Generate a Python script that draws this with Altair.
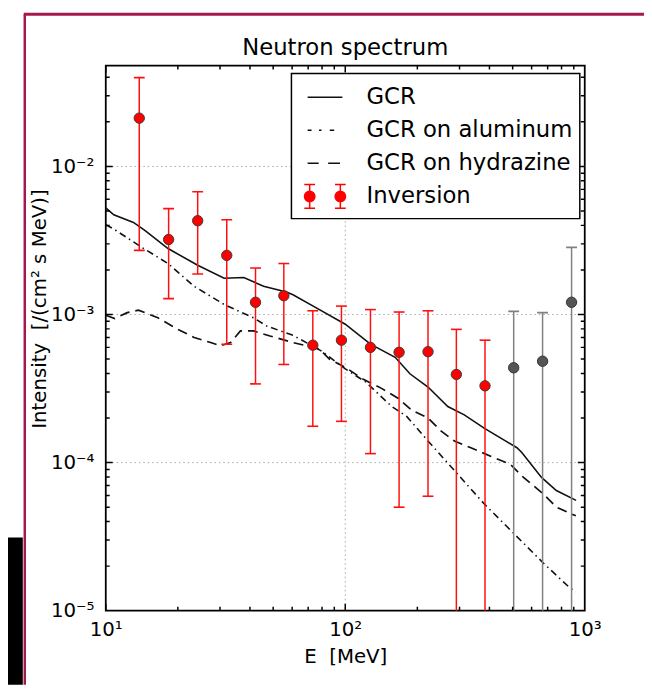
import math
import altair as alt
import pandas as pd

# ---------------- data ----------------
series_names = ["GCR", "GCR on aluminum", "GCR on hydrazine", "Inversion"]

gcr_energy = [10, 10.8, 13.05, 14.6, 18.2, 24.2, 31.2, 37.7, 45.6, 56.8, 60.5, 78.0, 100, 127.4,
              161.6, 186.2, 221.6, 268, 314, 380, 521, 546, 660, 761, 920]
gcr_value = [5.25e-3, 4.71e-3, 4.19e-3, 3.69e-3, 2.79e-3, 2.15e-3, 1.76e-3, 1.78e-3, 1.55e-3, 1.42e-3,
             1.36e-3, 1.08e-3, 8.6e-4, 6.31e-4, 5.14e-4, 3.98e-4, 3.24e-4, 2.39e-4, 2.10e-4, 1.71e-4,
             1.26e-4, 1.17e-4, 7.94e-5, 6.48e-5, 5.56e-5]

al_energy = [10, 10.8, 14.1, 18.2, 23.4, 31.2, 41.4, 47.0, 60.5, 79.3, 100, 121.5, 156.5, 180.5,
             221.6, 294.6, 380, 505, 671, 865, 918]
al_value = [4.04e-3, 3.78e-3, 2.85e-3, 2.21e-3, 1.55e-3, 1.17e-3, 9.5e-4, 8.36e-4, 7.24e-4, 5.69e-4,
            4.30e-4, 3.51e-4, 2.39e-4, 2.05e-4, 1.40e-4, 8.36e-5, 5.27e-5, 3.33e-5, 2.10e-5, 1.43e-5,
            1.34e-5]

hy_energy = [10, 10.9, 12.3, 13.7, 16.5, 20.0, 23.4, 27.4, 30.1, 33.2, 36.5, 41.4, 48.5, 60.5, 78.0,
             85.8, 100, 117.8, 142.3, 166.7, 189.3, 221.6, 251.7, 285.6, 334.6, 417.6, 489, 555, 671,
             761, 918]
hy_value = [9.9e-4, 9.4e-4, 1.03e-3, 1.07e-3, 9.5e-4, 7.94e-4, 7.0e-4, 6.47e-4, 6.15e-4, 6.47e-4,
            7.75e-4, 7.75e-4, 7.16e-4, 6.47e-4, 5.85e-4, 5.01e-4, 4.40e-4, 3.69e-4, 3.16e-4, 2.71e-4,
            2.26e-4, 2.0e-4, 1.63e-4, 1.40e-4, 1.26e-4, 1.08e-4, 9.75e-5, 7.94e-5, 6.15e-5, 5.01e-5,
            4.37e-5]

inv_energy = [13.8, 18.3, 24.2, 32.0, 42.2, 55.4, 73.2, 96.4, 127.4, 167.8, 221.6, 291.0, 383.3,
              505.0, 666.7, 881.0]
inv_value = [2.12e-2, 3.21e-3, 4.30e-3, 2.51e-3, 1.21e-3, 1.34e-3, 6.21e-4, 6.71e-4, 6.00e-4, 5.56e-4,
             5.61e-4, 3.94e-4, 3.30e-4, 4.37e-4, 4.84e-4, 1.21e-3]
inv_upper = [3.98e-2, 5.19e-3, 6.74e-3, 4.37e-3, 2.06e-3, 2.21e-3, 1.06e-3, 1.14e-3, 1.08e-3, 1.04e-3,
             1.06e-3, 7.94e-4, 6.71e-4, 1.05e-3, 1.03e-3, 2.84e-3]
inv_lower = [2.71e-3, 1.28e-3, 1.88e-3, 6.30e-4, 3.40e-4, 4.60e-4, 1.76e-4, 1.90e-4, 1.15e-4, 5.0e-5,
             5.93e-5, 1e-7, 1e-7, 1e-7, 1e-7, 1e-7]
inv_status = ["constrained"] * 13 + ["unconstrained"] * 3

x_tick_values = [10, 100, 1000]
x_tick_labels = ["10\u00b9", "10\u00b2", "10\u00b3"]
y_tick_values = [1e-5, 1e-4, 1e-3, 1e-2]
y_tick_labels = ["10\u207b\u2075", "10\u207b\u2074", "10\u207b\u00b3", "10\u207b\u00b2"]
x_minor = [20, 30, 40, 50, 60, 70, 80, 90, 200, 300, 400, 500, 600, 700, 800, 900]
y_minor = [2e-5, 3e-5, 4e-5, 5e-5, 6e-5, 7e-5, 8e-5, 9e-5,
           2e-4, 3e-4, 4e-4, 5e-4, 6e-4, 7e-4, 8e-4, 9e-4,
           2e-3, 3e-3, 4e-3, 5e-3, 6e-3, 7e-3, 8e-3, 9e-3,
           2e-2, 3e-2, 4e-2]
x_grid = [100]
y_grid = [1e-4, 1e-3, 1e-2]

X_DOMAIN = [10, 1000]
Y_DOMAIN = [1e-5, 0.048]

FONT = "DejaVu Sans"
NBSP = "\u00a0"


def label_expr(values, labels):
    expr = f"'{labels[-1]}'"
    for i in range(len(values) - 2, -1, -1):
        thr = math.sqrt(values[i] * values[i + 1])
        expr = f"datum.value < {thr:.6g} ? '{labels[i]}' : ({expr})"
    return expr


xs = alt.Scale(type="log", domain=X_DOMAIN, nice=False)
ys = alt.Scale(type="log", domain=Y_DOMAIN, nice=False)

x_axis = alt.Axis(
    title="E " + NBSP + "[MeV]", values=x_tick_values,
    labelExpr=label_expr(x_tick_values, x_tick_labels),
    grid=False, domain=False, ticks=False, tickSize=0, labelPadding=9, labelFont=FONT,
    labelFontSize=20, labelColor="black", labelFlush=False, labelOverlap=False,
    titleFont=FONT, titleFontSize=20, titleFontWeight="normal", titleColor="black",
    titleY=46, titleBaseline="middle",
)
y_axis = alt.Axis(
    title="Intensity " + NBSP + "[/(cm\u00b2 s MeV)]", values=y_tick_values,
    labelExpr=label_expr(y_tick_values, y_tick_labels),
    grid=False, domain=False, ticks=False, tickSize=0, labelPadding=12, labelFont=FONT,
    labelFontSize=20, labelColor="black", labelFlush=False, labelOverlap=False,
    titleFont=FONT, titleFontSize=20, titleFontWeight="normal", titleColor="black",
    titleX=-67, titleY=246, titleAngle=270, titleBaseline="middle", titleAlign="center",
)


def X(field):
    return alt.X(f"{field}:Q", scale=xs, axis=x_axis)


def Y(field):
    return alt.Y(f"{field}:Q", scale=ys, axis=y_axis)


# ---------------- grid ----------------
grid_x = alt.Chart(pd.DataFrame({"v": x_grid})).mark_rule(
    color="#a8a8a8", strokeDash=[1.5, 3], strokeWidth=1).encode(x=X("v"))
grid_y = alt.Chart(pd.DataFrame({"v": y_grid})).mark_rule(
    color="#a8a8a8", strokeDash=[1.5, 3], strokeWidth=1).encode(y=Y("v"))

# ---------------- model lines ----------------
line_gcr = alt.Chart(pd.DataFrame({"E": gcr_energy, "I": gcr_value})).mark_line(
    color="#111111", strokeWidth=1.6, clip=True).encode(x=X("E"), y=Y("I"))
line_al = alt.Chart(pd.DataFrame({"E": al_energy, "I": al_value})).mark_line(
    color="#111111", strokeWidth=1.6, strokeDash=[7, 4, 1.5, 4], clip=True).encode(x=X("E"), y=Y("I"))
line_hy = alt.Chart(pd.DataFrame({"E": hy_energy, "I": hy_value})).mark_line(
    color="#111111", strokeWidth=1.7, strokeDash=[10, 6], clip=True).encode(x=X("E"), y=Y("I"))

# ---------------- inversion with error bars ----------------
inv_df = pd.DataFrame({"E": inv_energy, "I": inv_value, "lo": inv_lower, "hi": inv_upper,
                       "status": inv_status})
inv_layers = []
for status, bar_col, fill_col, edge_col in [("constrained", "#ff1010", "#ff0000", "#3a3a3a"),
                                             ("unconstrained", "#808080", "#555555", "#333333")]:
    base = alt.Chart(inv_df).transform_filter(alt.datum.status == status)
    inv_layers.append(base.mark_rule(color=bar_col, strokeWidth=1.5, clip=True).encode(
        x=X("E"), y=Y("lo"), y2=alt.Y2("hi")))
    inv_layers.append(base.mark_tick(orient="horizontal", size=11, thickness=1.6, color=bar_col,
                                     opacity=1, clip=True).encode(x=X("E"), y=Y("hi")))
    inv_layers.append(base.mark_tick(orient="horizontal", size=11, thickness=1.6, color=bar_col,
                                     opacity=1, clip=True).encode(x=X("E"), y=Y("lo")))
    inv_layers.append(base.mark_point(filled=True, size=110, fill=fill_col, stroke=edge_col,
                                      strokeWidth=1, opacity=1, clip=True).encode(x=X("E"), y=Y("I")))

# ---------------- inward ticks on all four sides ----------------
xt_df = pd.DataFrame({"v": x_tick_values + x_minor,
                      "kind": ["major"] * len(x_tick_values) + ["minor"] * len(x_minor)})
yt_df = pd.DataFrame({"v": y_tick_values + y_minor,
                      "kind": ["major"] * len(y_tick_values) + ["minor"] * len(y_minor)})
size_enc = alt.Size("kind:O", scale=alt.Scale(domain=["major", "minor"], range=[14, 8]), legend=None)
tick_layers = []
for ydat in (Y_DOMAIN[0], Y_DOMAIN[1]):
    tick_layers.append(alt.Chart(xt_df).mark_tick(
        orient="vertical", thickness=1.5, color="black", opacity=1, clip=True).encode(
        x=X("v"), y=alt.YDatum(ydat, type="quantitative", scale=ys, axis=y_axis), size=size_enc))
for xdat in (X_DOMAIN[0], X_DOMAIN[1]):
    tick_layers.append(alt.Chart(yt_df).mark_tick(
        orient="horizontal", thickness=1.5, color="black", opacity=1, clip=True).encode(
        y=Y("v"), x=alt.XDatum(xdat, type="quantitative", scale=xs, axis=x_axis), size=size_enc))

# ---------------- legend (library legend with custom symbols) ----------------
# every symbol starts with the same two move-to points so all entries share identical bounds
BOUNDS = "M-1.31,-0.78M1.31,0.78"


def circle_poly(cx, r, n=16):
    pts = [(cx + r * math.cos(2 * math.pi * k / n), r * math.sin(2 * math.pi * k / n)) for k in range(n)]
    return "M" + "L".join(f"{x:.3f},{y:.3f}" for x, y in pts) + "Z"


def errbar_symbol(cx):
    return (f"M{cx:.3f},-0.75L{cx:.3f},0.75M{cx - 0.34:.3f},-0.75L{cx + 0.34:.3f},-0.75"
            f"M{cx - 0.34:.3f},0.75L{cx + 0.34:.3f},0.75" + circle_poly(cx, 0.33))


legend_shapes = [
    BOUNDS + "M-1.1,0L1.1,0",
    BOUNDS + "M-1.1,0L-0.85,0M-0.38,0L-0.22,0M0.3,0L0.58,0",
    BOUNDS + "M-1.1,0L-0.4,0M0.2,0L0.95,0",
    BOUNDS + errbar_symbol(-0.97) + errbar_symbol(0.97),
]

leg = alt.Legend(title=None, orient="none", legendX=188, legendY=8, symbolSize=1024,
                 symbolStrokeWidth=1.5, symbolOpacity=1, labelFont=FONT, labelFontSize=23,
                 labelColor="black", labelOffset=25, labelLimit=400, padding=7, rowPadding=0.5,
                 symbolOffset=10, fillColor="white", strokeColor="black")

legend_layer = alt.Chart(pd.DataFrame({"series": series_names})).mark_point(
    filled=True, size=1024, opacity=1, clip=True).encode(
    x=alt.value(-2000), y=alt.value(-2000),
    shape=alt.Shape("series:N", scale=alt.Scale(domain=series_names, range=legend_shapes), legend=leg),
    stroke=alt.Stroke("series:N", scale=alt.Scale(domain=series_names,
                                                  range=["#111111", "#111111", "#111111", "#ff0000"]),
                      legend=leg),
    fill=alt.Fill("series:N", scale=alt.Scale(domain=series_names,
                                              range=["#ff0000", "#ff0000", "#ff0000", "#ff0000"]),
                  legend=leg),
)

# ---------------- slide frame decoration around the figure ----------------
one = pd.DataFrame({"k": [0]})
deco = [
    alt.Chart(one).mark_rule(color="#a3194d", strokeWidth=3).encode(
        x=alt.value(-83), x2=alt.value(545), y=alt.value(-52)),
    alt.Chart(one).mark_rule(color="#a3194d", strokeWidth=2.5).encode(
        x=alt.value(-82), y=alt.value(-52), y2=alt.value(627)),
    alt.Chart(one).mark_rect(color="black").encode(
        x=alt.value(-99), x2=alt.value(-84), y=alt.value(478), y2=alt.value(627)),
]

chart = alt.layer(
    grid_x, grid_y, line_gcr, line_al, line_hy, *inv_layers, *tick_layers, legend_layer, *deco
).properties(
    width=485, height=552,
    title=alt.TitleParams("Neutron spectrum", font=FONT, fontSize=23, fontWeight="normal",
                          color="black", anchor="middle", baseline="alphabetic", offset=-65.5),
    autosize=alt.AutoSizeParams(type="none"),
    padding={"left": 99, "top": 54, "right": 60, "bottom": 75},
).configure_view(stroke="black", strokeWidth=1.8).configure_legend(strokeWidth=1.5)

chart.save("out.html", embed_options={"renderer": "svg", "actions": False})
